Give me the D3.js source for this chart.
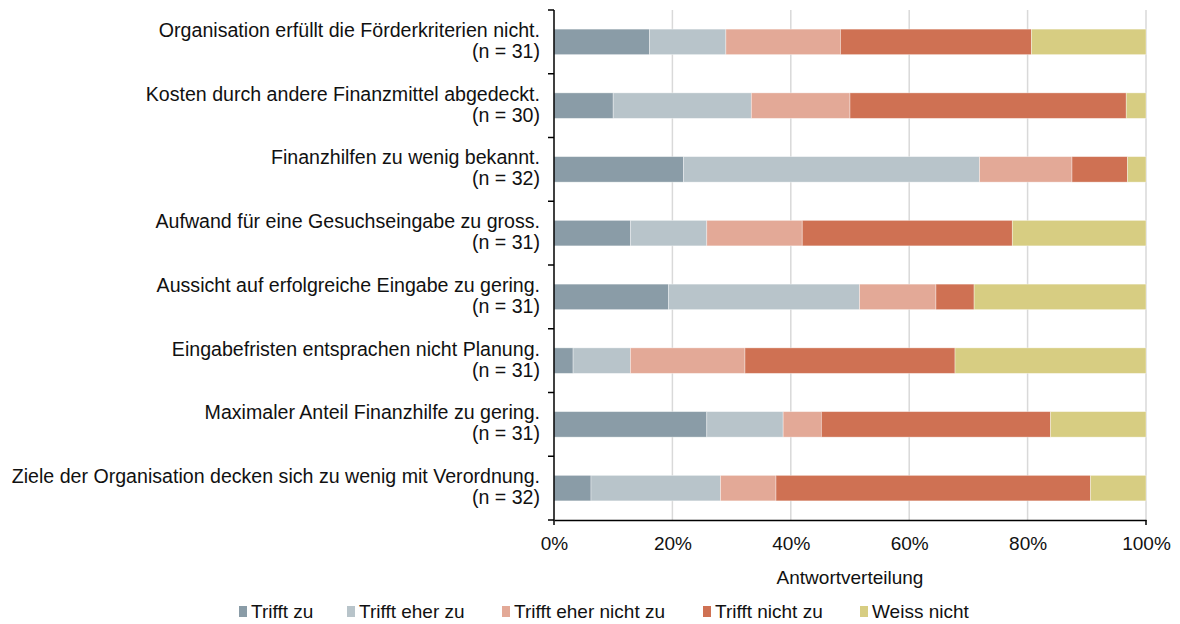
<!DOCTYPE html>
<html>
<head>
<meta charset="utf-8">
<script src="https://cdn.jsdelivr.net/npm/d3@7"></script>
<style>
  body { margin: 0; background: #fff; }
  svg { display: block; font-family: "Liberation Sans", Arial, sans-serif; }
</style>
</head>
<body>
<svg id="chart" width="1180" height="624"></svg>
<script>
// categories top to bottom, with sample sizes
const categories = [
  'Organisation erfüllt die Förderkriterien nicht.',
  'Kosten durch andere Finanzmittel abgedeckt.',
  'Finanzhilfen zu wenig bekannt.',
  'Aufwand für eine Gesuchseingabe zu gross.',
  'Aussicht auf erfolgreiche Eingabe zu gering.',
  'Eingabefristen entsprachen nicht Planung.',
  'Maximaler Anteil Finanzhilfe zu gering.',
  'Ziele der Organisation decken sich zu wenig mit Verordnung.'
];
const sampleSizes = [31, 30, 32, 31, 31, 31, 31, 32];

// answer counts per series
const seriesNames = ['Trifft zu', 'Trifft eher zu', 'Trifft eher nicht zu', 'Trifft nicht zu', 'Weiss nicht'];
const triffZu          = [5, 3, 7, 4, 6, 1, 8, 2];
const triffEherZu      = [4, 7, 16, 4, 10, 3, 4, 7];
const triffEherNichtZu = [6, 5, 5, 5, 4, 6, 2, 3];
const triffNichtZu     = [10, 14, 3, 11, 2, 11, 12, 17];
const weissNicht       = [6, 1, 1, 7, 9, 10, 5, 3];

const xTicks = [0, 0.2, 0.4, 0.6, 0.8, 1];
const seriesColors = ['#8a9ca7', '#b8c4ca', '#e3a997', '#cf7153', '#d7cd82'];

const rows = categories.map((c, i) => ({
  cat: c,
  n: sampleSizes[i],
  'Trifft zu': triffZu[i],
  'Trifft eher zu': triffEherZu[i],
  'Trifft eher nicht zu': triffEherNichtZu[i],
  'Trifft nicht zu': triffNichtZu[i],
  'Weiss nicht': weissNicht[i]
}));

const svg = d3.select('#chart');
const margin = { left: 554, right: 34, top: 10, bottom: 104 };
const W = 1180, H = 624;
const fontSize = 19;

const x = d3.scaleLinear().domain([0, 1]).range([margin.left, W - margin.right]);
const y = d3.scaleBand().domain(categories).range([margin.top, H - margin.bottom]).paddingInner(0.6).paddingOuter(0.3);
const color = d3.scaleOrdinal().domain(seriesNames).range(seriesColors);

// gridlines
svg.append('g')
  .selectAll('line')
  .data(xTicks.slice(1))
  .join('line')
  .attr('x1', d => x(d)).attr('x2', d => x(d))
  .attr('y1', margin.top).attr('y2', H - margin.bottom)
  .attr('stroke', '#d9d9d9')
  .attr('stroke-width', 1.5);

// stacked bars, normalised to 100%
const stacked = d3.stack().keys(seriesNames).offset(d3.stackOffsetExpand)(rows);

svg.append('g')
  .selectAll('g')
  .data(stacked)
  .join('g')
  .attr('fill', d => color(d.key))
  .selectAll('rect')
  .data(d => d)
  .join('rect')
  .attr('x', d => x(d[0]))
  .attr('y', d => y(d.data.cat))
  .attr('width', d => x(d[1]) - x(d[0]))
  .attr('height', y.bandwidth())
  .attr('stroke', 'rgba(255,255,255,0.45)')
  .attr('stroke-width', 0.8);

// y axis with ticks between the categories
const step = y.step();
const yAxis = svg.append('g');
yAxis.append('line')
  .attr('x1', margin.left).attr('x2', margin.left)
  .attr('y1', margin.top).attr('y2', H - margin.bottom)
  .attr('stroke', '#000').attr('stroke-width', 1.5);
yAxis.selectAll('line.tick')
  .data(d3.range(categories.length + 1))
  .join('line')
  .attr('class', 'tick')
  .attr('x1', margin.left - 6).attr('x2', margin.left)
  .attr('y1', i => margin.top + i * step)
  .attr('y2', i => margin.top + i * step)
  .attr('stroke', '#000').attr('stroke-width', 1.5);

// category labels, two lines each
const labels = svg.append('g')
  .attr('font-size', 19.6)
  .attr('fill', '#111')
  .attr('text-anchor', 'end');
rows.forEach(r => {
  const cy = y(r.cat) + y.bandwidth() / 2;
  const t = labels.append('text');
  t.append('tspan').attr('x', margin.left - 14).attr('y', cy - 5).text(r.cat);
  t.append('tspan').attr('x', margin.left - 14).attr('y', cy + 16).text(`(n = ${r.n})`);
});

// x axis
const xAxis = svg.append('g')
  .attr('transform', `translate(0,${H - margin.bottom})`)
  .call(d3.axisBottom(x).tickValues(xTicks).tickFormat(d3.format('.0%')).tickSize(0).tickPadding(17));
xAxis.select('.domain').attr('stroke', '#000').attr('stroke-width', 1.5);
xAxis.selectAll('text').attr('font-size', fontSize).attr('fill', '#111').attr('font-family', null);
xAxis.selectAll('line.endtick')
  .data([0, 1])
  .join('line')
  .attr('class', 'endtick')
  .attr('x1', d => x(d)).attr('x2', d => x(d))
  .attr('y1', 0).attr('y2', 5)
  .attr('stroke', '#000').attr('stroke-width', 1.5);

svg.append('text')
  .attr('x', (x(0) + x(1)) / 2)
  .attr('y', 584)
  .attr('text-anchor', 'middle')
  .attr('font-size', fontSize)
  .attr('fill', '#111')
  .text('Antwortverteilung');

// legend
const legendX = [239, 347, 502, 703, 860];
const legend = svg.append('g');
seriesNames.forEach((s, i) => {
  const g = legend.append('g').attr('transform', `translate(${legendX[i]},611)`);
  g.append('rect').attr('x', 0).attr('y', -5).attr('width', 8).attr('height', 11).attr('fill', color(s));
  g.append('text').attr('x', 12).attr('y', 7).attr('font-size', fontSize).attr('fill', '#111').text(s);
});
</script>
</body>
</html>
